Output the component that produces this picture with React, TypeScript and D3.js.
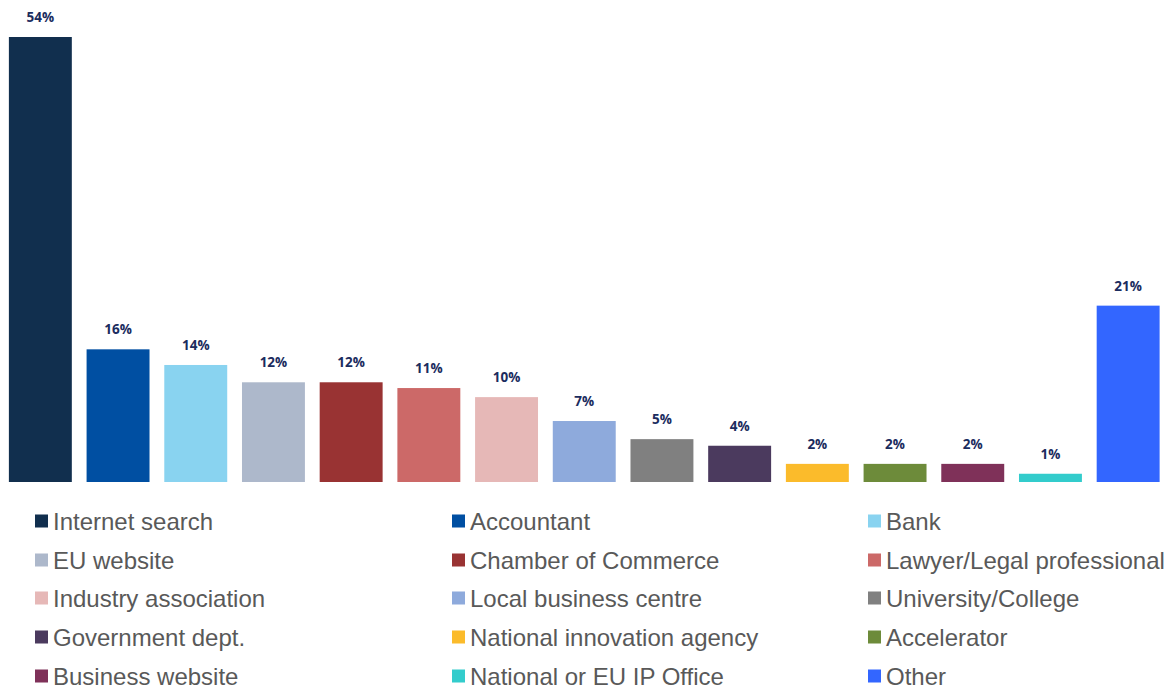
import React from "react";
import * as d3 from "d3";

const categories = [
  "Internet search", "Accountant", "Bank", "EU website", "Chamber of Commerce",
  "Lawyer/Legal professional", "Industry association", "Local business centre",
  "University/College", "Government dept.", "National innovation agency",
  "Accelerator", "Business website", "National or EU IP Office", "Other",
];
const values = [54, 16.1, 14.2, 12.1, 12.1, 11.4, 10.3, 7.4, 5.2, 4.4, 2.2, 2.2, 2.2, 1.0, 21.4];
const labels = ["54%", "16%", "14%", "12%", "12%", "11%", "10%", "7%", "5%", "4%", "2%", "2%", "2%", "1%", "21%"];
const colors = [
  "#112f4e", "#004fa2", "#89d3f0", "#adb8cb", "#993333",
  "#cc6968", "#e6b8b7", "#8eaadc", "#808080", "#4b3a5e",
  "#fbbb2b", "#6d8b3a", "#7f3159", "#33cccc", "#3366ff",
];

const W = 1173, H = 689;

export default function App() {
  const x = d3.scaleBand<string>().domain(categories).range([1.5, 1167]).paddingInner(0.19).paddingOuter(0.095);
  const y = d3.scaleLinear().domain([0, 54]).range([482, 37]);
  const legendCols = [35, 452, 868];
  const legendRows = [521, 560, 598, 637, 676];
  return (
    <svg width={W} height={H} style={{ position: "absolute", left: 0, top: 0 }}>
      <rect width={W} height={H} fill="#fff" />
      {categories.map((c, i) => (
        <g key={c}>
          <rect x={x(c)} y={y(values[i])} width={x.bandwidth()} height={y(0) - y(values[i])} fill={colors[i]} />
          <text x={(x(c) as number) + x.bandwidth() / 2} y={y(values[i]) - 15}
            textAnchor="middle" fontFamily="'Open Sans', sans-serif" fontWeight="bold" fontSize={13.5} fill="#1b2c5e">
            {labels[i]}
          </text>
        </g>
      ))}
      {categories.map((c, i) => {
        const col = i % 3, row = Math.floor(i / 3);
        const lx = legendCols[col], ly = legendRows[row];
        return (
          <g key={"l" + c}>
            <rect x={lx} y={ly - 6.5} width={13} height={13} fill={colors[i]} />
            <text x={lx + 18} y={ly} dominantBaseline="central" fontFamily="'Liberation Sans', Arial, sans-serif" fontSize={24} fill="#595959">
              {c}
            </text>
          </g>
        );
      })}
    </svg>
  );
}
